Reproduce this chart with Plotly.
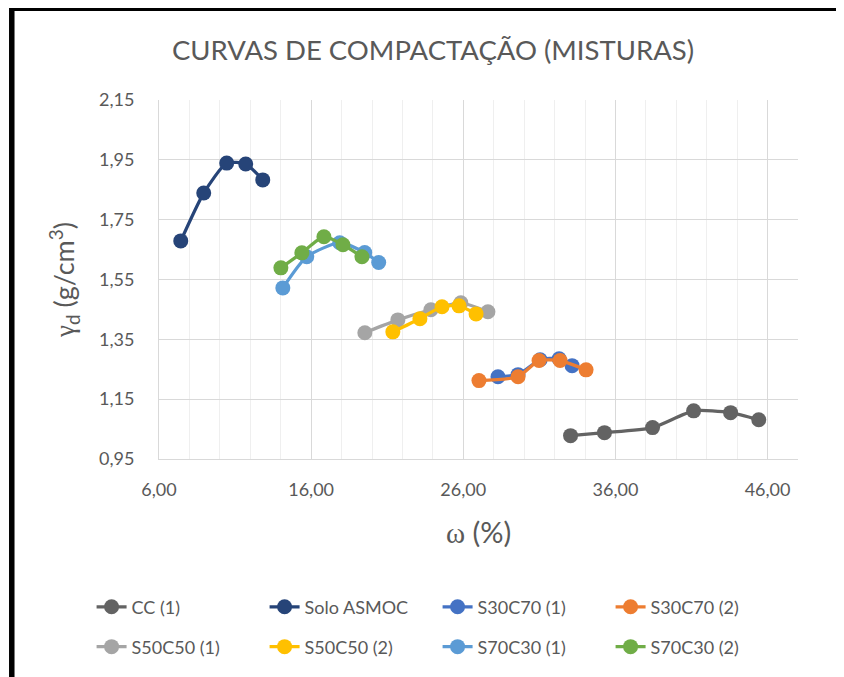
import plotly.graph_objects as go

# Curvas de compactação (misturas): umidade ω (%) x peso específico seco γd (g/cm³)
cc1_w = [33.05, 35.28, 38.44, 41.14, 43.57, 45.42]
cc1_g = [1.028, 1.038, 1.055, 1.111, 1.105, 1.081]

solo_w = [7.43, 8.94, 10.45, 11.70, 12.82]
solo_g = [1.679, 1.839, 1.939, 1.936, 1.883]

s30c70_1_w = [28.28, 29.60, 31.05, 32.30, 33.15]
s30c70_1_g = [1.225, 1.232, 1.282, 1.285, 1.262]

s30c70_2_w = [27.03, 29.60, 30.98, 32.36, 34.07]
s30c70_2_g = [1.212, 1.225, 1.279, 1.279, 1.248]

s50c50_1_w = [19.53, 21.70, 23.87, 25.84, 27.62]
s50c50_1_g = [1.372, 1.415, 1.449, 1.472, 1.442]

s50c50_2_w = [21.37, 23.15, 24.60, 25.72, 26.84]
s50c50_2_g = [1.375, 1.419, 1.459, 1.462, 1.435]

s70c30_1_w = [14.14, 15.71, 17.88, 19.52, 20.44]
s70c30_1_g = [1.522, 1.626, 1.673, 1.640, 1.607]

s70c30_2_w = [14.01, 15.39, 16.84, 18.09, 19.34]
s70c30_2_g = [1.589, 1.639, 1.693, 1.666, 1.626]

x_ticks = [6, 16, 26, 36, 46]
y_ticks = [0.95, 1.15, 1.35, 1.55, 1.75, 1.95, 2.15]

series = [
    ("CC (1)", cc1_w, cc1_g, "#636363", "legend"),
    ("Solo ASMOC", solo_w, solo_g, "#264478", "legend"),
    ("S30C70 (1)", s30c70_1_w, s30c70_1_g, "#4472C4", "legend"),
    ("S30C70 (2)", s30c70_2_w, s30c70_2_g, "#ED7D31", "legend"),
    ("S50C50 (1)", s50c50_1_w, s50c50_1_g, "#A5A5A5", "legend2"),
    ("S50C50 (2)", s50c50_2_w, s50c50_2_g, "#FFC000", "legend2"),
    ("S70C30 (1)", s70c30_1_w, s70c30_1_g, "#5B9BD5", "legend2"),
    ("S70C30 (2)", s70c30_2_w, s70c30_2_g, "#70AD47", "legend2"),
]

FONT = "Lato, 'Open Sans', sans-serif"
TEXT = "#595959"

fig = go.Figure()

for name, w, g, color, leg in series:
    fig.add_trace(go.Scatter(
        x=w,
        y=g,
        mode="lines+markers",
        name=name,
        legend=leg,
        line=dict(color=color, width=3.25, shape="spline", smoothing=0.6),
        marker=dict(color=color, size=15),
    ))

legend_style = dict(
    orientation="h",
    xanchor="left",
    yanchor="top",
    entrywidth=128,
    entrywidthmode="pixels",
    font=dict(family=FONT, size=18, color=TEXT),
    bgcolor="rgba(0,0,0,0)",
)

# the page adds an 8px body margin, so the plot is placed 8px up and left
fig.update_layout(
    width=844,
    height=677,
    margin=dict(l=151, r=54, t=92, b=226, autoexpand=False),
    paper_bgcolor="white",
    plot_bgcolor="white",
    separators=",.",
    title=dict(
        text="CURVAS DE COMPACTAÇÃO (MISTURAS)",
        x=0.5036, xanchor="center",
        y=0.938, yanchor="middle",
        font=dict(family=FONT, size=27.5, color=TEXT),
    ),
    legend=dict(x=-0.1055, y=-0.361, **legend_style),
    legend2=dict(x=-0.1055, y=-0.472, **legend_style),
    shapes=[
        dict(type="line", xref="paper", yref="paper", x0=-0.2304, x1=1.3,
             y0=1.256, y1=1.256, line=dict(color="black", width=6)),
        dict(type="line", xref="paper", yref="paper", x0=-0.2304, x1=-0.2304,
             y0=1.27, y1=-0.8, line=dict(color="black", width=5.5)),
    ],
)

fig.update_xaxes(
    range=[6, 48],
    tickvals=x_ticks,
    tickformat=".2f",
    showgrid=True,
    gridcolor="#D9D9D9",
    gridwidth=1,
    minor=dict(dtick=2, tick0=6, showgrid=True, gridcolor="#EFEFEF", gridwidth=1),
    zeroline=False,
    showline=True,
    linecolor="#D9D9D9",
    ticks="",
    ticklabelstandoff=14,
    tickfont=dict(family=FONT, size=18, color=TEXT),
    title=dict(
        text="<span style=\"font-family:'Liberation Serif', serif\">ω</span> (%)",
        font=dict(family=FONT, size=29, color=TEXT),
        standoff=24,
    ),
)

fig.update_yaxes(
    range=[0.95, 2.15],
    tickvals=y_ticks,
    tickformat=".2f",
    showgrid=True,
    gridcolor="#D9D9D9",
    gridwidth=1,
    zeroline=False,
    showline=True,
    linecolor="#D9D9D9",
    ticks="",
    ticklabelstandoff=20,
    tickfont=dict(family=FONT, size=18, color=TEXT),
    title=dict(
        text="<span style=\"font-family:'Liberation Serif', serif\">γ</span><sub>d</sub> (g/cm<sup>3</sup>)",
        font=dict(family=FONT, size=27, color=TEXT),
        standoff=16,
    ),
)

fig.write_html("out.html")
